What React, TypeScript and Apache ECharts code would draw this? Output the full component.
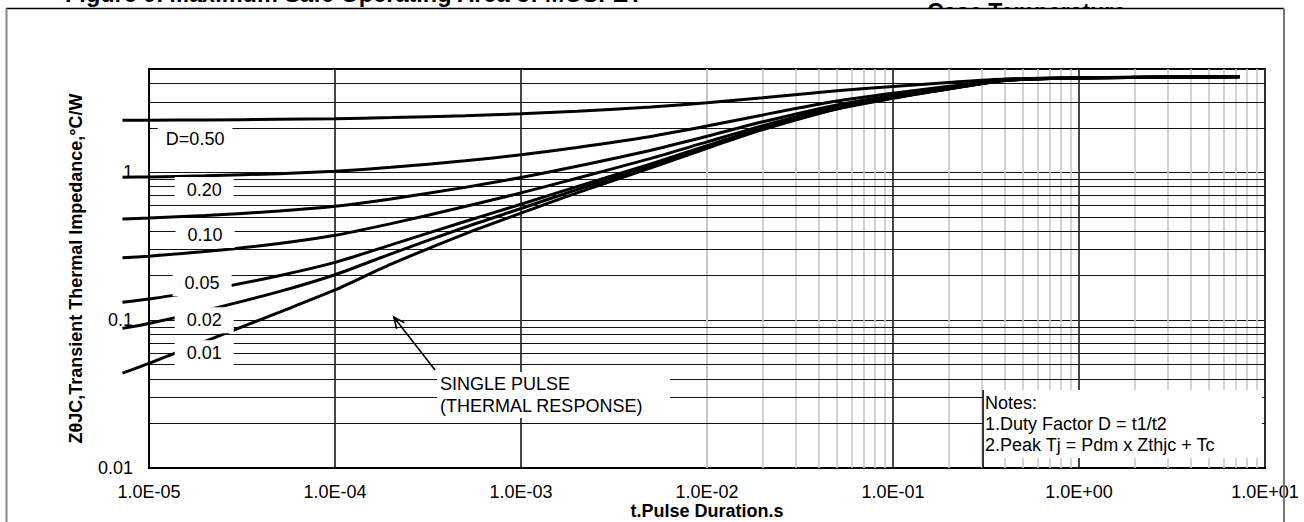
import React, { useEffect, useRef } from 'react';
import * as echarts from 'echarts';

// ---- data ----
const pulseTimes = [7.2e-6, 1e-5, 2e-5, 5e-5, 1e-4, 2e-4, 5e-4, 1e-3, 2e-3, 5e-3, 1e-2, 2e-2, 5e-2, 0.1, 0.2, 0.4, 1, 7.3];
const zD50 = [2.247, 2.25, 2.261, 2.282, 2.305, 2.345, 2.417, 2.49, 2.589, 2.762, 2.953, 3.198, 3.565, 3.81, 4.055, 4.28, 4.37, 4.44];
const zD20 = [0.925, 0.931, 0.947, 0.98, 1.018, 1.081, 1.197, 1.314, 1.472, 1.748, 2.055, 2.446, 3.034, 3.426, 3.818, 4.234, 4.36, 4.44];
const zD10 = [0.484, 0.491, 0.51, 0.547, 0.589, 0.66, 0.791, 0.922, 1.099, 1.411, 1.755, 2.196, 2.857, 3.298, 3.739, 4.207, 4.355, 4.44];
const zD05 = [0.264, 0.271, 0.291, 0.33, 0.375, 0.45, 0.587, 0.726, 0.913, 1.242, 1.606, 2.07, 2.768, 3.234, 3.699, 4.193, 4.35, 4.44];
const zD02 = [0.132, 0.139, 0.159, 0.2, 0.246, 0.323, 0.465, 0.608, 0.801, 1.141, 1.516, 1.995, 2.715, 3.196, 3.676, 4.185, 4.35, 4.44];
const zD01 = [0.088, 0.095, 0.116, 0.156, 0.203, 0.281, 0.425, 0.569, 0.764, 1.107, 1.486, 1.97, 2.698, 3.183, 3.668, 4.183, 4.35, 4.44];
const zSingle = [0.0438, 0.051, 0.0718, 0.113, 0.16, 0.239, 0.384, 0.53, 0.727, 1.073, 1.456, 1.945, 2.68, 3.17, 3.66, 4.18, 4.35, 4.44];

const xTickLabels = ['1.0E-05', '1.0E-04', '1.0E-03', '1.0E-02', '1.0E-01', '1.0E+00', '1.0E+01'];
const yTickLabels = ['0.01', '0.1', '1'];
const gridMultipliers = [2, 3, 4, 5, 6, 7, 8, 9];
const xDecades = [1e-5, 1e-4, 1e-3, 1e-2, 1e-1, 1];
const yDecades = [0.01, 0.1, 1];

const curveLabels = ['D=0.50', '0.20', '0.10', '0.05', '0.02', '0.01'];
const curveLabelAnchors = [
  [1.77e-5, 1.68],
  [1.98e-5, 0.76],
  [2.0e-5, 0.377],
  [1.93e-5, 0.178],
  [1.98e-5, 0.1],
  [1.98e-5, 0.0597],
];
const singlePulseAnchor = [3.67e-4, 0.0446];
const arrowTail = [3.45e-4, 0.046];
const arrowTip = [2.07e-4, 0.105];
const notesAnchor = [0.305, 0.0337];
const notesLines = ['Notes:', '1.Duty Factor D = t1/t2', '2.Peak Tj = Pdm x Zthjc + Tc'];

const FONT = "'Liberation Sans', Arial, Helvetica, sans-serif";

// plot geometry
const G_LEFT = 149;
const G_RIGHT = 39;
const G_TOP = 69;
const G_BOTTOM = 54;
const X_MIN_LOG = -5;
const X_MAX_LOG = 1;
// the curves start a little left of the y axis, as in the reference
const CURVE_X_MIN_LOG = -5.15;

function pairs(z: number[]) {
  return pulseTimes.map((t, i) => [t, z[i]]);
}

export default function App() {
  const ref = useRef<HTMLDivElement>(null);
  useEffect(() => {
    document.body.style.margin = '0';
    document.body.style.overflow = 'hidden';
    const chart = echarts.init(ref.current!, null, { renderer: 'svg' });

    const plotW = 1304 - G_LEFT - G_RIGHT;
    const decadePx = plotW / (X_MAX_LOG - X_MIN_LOG);
    const curveLeft = G_LEFT - (X_MIN_LOG - CURVE_X_MIN_LOG) * decadePx;

    const vMinor = xDecades.flatMap((d) => gridMultipliers.map((m) => m * d));
    const hMinor = yDecades.flatMap((d) => gridMultipliers.map((m) => m * d)).filter((v) => v < 4.999);

    const mkSeries = (name: string, z: number[]) => ({
      name,
      type: 'line',
      xAxisIndex: 1,
      yAxisIndex: 1,
      data: pairs(z),
      symbol: 'none',
      smooth: 0.25,
      clip: false,
      lineStyle: { color: '#000', width: 3 },
      silent: true,
      z: 3,
    });

    chart.setOption({
      animation: false,
      textStyle: { fontFamily: FONT },
      grid: [
        { left: G_LEFT, right: G_RIGHT, top: G_TOP, bottom: G_BOTTOM, show: true, borderColor: '#000', borderWidth: 2, outerBoundsMode: 'none', containLabel: false },
        { left: curveLeft, right: G_RIGHT, top: G_TOP, bottom: G_BOTTOM, show: false, outerBoundsMode: 'none', containLabel: false },
      ],
      xAxis: [
        {
          type: 'log',
          gridIndex: 0,
          logBase: 10,
          min: Math.pow(10, X_MIN_LOG),
          max: Math.pow(10, X_MAX_LOG),
          name: 't.Pulse Duration.s',
          nameLocation: 'middle',
          nameGap: 34,
          nameMoveOverlap: false,
          nameTextStyle: { fontSize: 18, fontWeight: 'bold', color: '#000', fontFamily: FONT },
          axisLine: { show: true, lineStyle: { color: '#000', width: 2 } },
          axisTick: { show: false },
          axisLabel: {
            color: '#000',
            fontSize: 18,
            fontFamily: FONT,
            margin: 15,
            formatter: (v: number) => xTickLabels[Math.round(Math.log10(v)) + 5] ?? '',
          },
          splitLine: { show: true, lineStyle: { color: '#333', width: 1.8 } },
        },
        {
          type: 'log',
          gridIndex: 1,
          logBase: 10,
          min: Math.pow(10, CURVE_X_MIN_LOG),
          max: Math.pow(10, X_MAX_LOG),
          show: false,
          splitLine: { show: false },
        },
      ],
      yAxis: [
        {
          type: 'log',
          gridIndex: 0,
          logBase: 10,
          min: 0.01,
          max: 5,
          name: 'ZθJC,Transient Thermal Impedance,°C/W',
          nameLocation: 'middle',
          nameGap: 64,
          nameTextStyle: { fontSize: 18, fontWeight: 'bold', color: '#000', fontFamily: FONT },
          axisLine: { show: true, lineStyle: { color: '#000', width: 2 } },
          axisTick: { show: false },
          axisLabel: {
            color: '#000',
            fontSize: 18,
            fontFamily: FONT,
            margin: 16,
            formatter: (v: number) => {
              const k = Math.log10(v);
              if (Math.abs(k - Math.round(k)) > 1e-6) return '';
              return yTickLabels[Math.round(k) + 2] ?? '';
            },
          },
          splitLine: { show: true, lineStyle: { color: '#111', width: 1.2 } },
        },
        {
          type: 'log',
          gridIndex: 1,
          logBase: 10,
          min: 0.01,
          max: 5,
          show: false,
          splitLine: { show: false },
        },
      ],
      series: [
        {
          name: 'grid lines',
          type: 'line',
          xAxisIndex: 0,
          yAxisIndex: 0,
          data: [[1e-5, 0.01]],
          symbol: 'none',
          showSymbol: false,
          lineStyle: { opacity: 0 },
          silent: true,
          z: 1,
          markLine: {
            z: 1,
            silent: true,
            symbol: 'none',
            label: { show: false },
            animation: false,
            data: [
              ...vMinor.map((v) => ({ xAxis: v, lineStyle: { color: '#c8c8c8', width: 1.6, type: 'solid' } })),
              ...hMinor.map((v) => ({ yAxis: v, lineStyle: { color: '#111', width: 1.2, type: 'solid' } })),
            ],
          },
        },
        mkSeries('Single pulse', zSingle),
        mkSeries('D=0.01', zD01),
        mkSeries('D=0.02', zD02),
        mkSeries('D=0.05', zD05),
        mkSeries('D=0.10', zD10),
        mkSeries('D=0.20', zD20),
        mkSeries('D=0.50', zD50),
      ],
    });

    const px = (p: number[]) => chart.convertToPixel({ gridIndex: 0 }, p) as number[];
    const graphics: any[] = [];

    // page remnants: captions of neighbouring figures and the outer frame
    graphics.push({
      type: 'text', z: 0, x: 927, y: 0,
      style: { text: 'Case Temperature', font: `bold 23px ${FONT}`, fill: '#000', align: 'left', verticalAlign: 'top' },
    });
    graphics.push({ type: 'rect', z: 1, shape: { x: 0, y: 9, width: 1304, height: 50 }, style: { fill: '#fff' } });
    graphics.push({
      type: 'text', z: 3, x: 65, y: 5.5,
      style: { text: 'Figure 9. Maximum Safe Operating Area of MOSFET', font: `bold 23.5px ${FONT}`, fill: '#000', align: 'left', verticalAlign: 'bottom' },
    });
    graphics.push({ type: 'line', z: 2, shape: { x1: 6, y1: 8.5, x2: 1284, y2: 8.5 }, style: { stroke: '#000', lineWidth: 1.5 } });
    graphics.push({ type: 'line', z: 60, shape: { x1: 6.5, y1: 8.5, x2: 6.5, y2: 522 }, style: { stroke: '#888', lineWidth: 2 } });
    graphics.push({ type: 'line', z: 60, shape: { x1: 1284, y1: 8.5, x2: 1284, y2: 522 }, style: { stroke: '#777', lineWidth: 2 } });

    // curve labels
    curveLabels.forEach((s, i) => {
      const [x, y] = px(curveLabelAnchors[i]);
      graphics.push({
        type: 'text', z: 50, x, y,
        style: {
          text: s, font: `18px ${FONT}`, fill: '#000', align: 'center', verticalAlign: 'middle',
          backgroundColor: '#fff', padding: i === 0 ? [4, 8, 4, 8] : [4, 12, 4, 12],
        },
      });
    });

    // single pulse annotation
    const [sx, sy] = px(singlePulseAnchor);
    graphics.push({ type: 'rect', z: 50, shape: { x: sx - 3, y: sy, width: 233, height: 46 }, style: { fill: '#fff' } });
    graphics.push({
      type: 'text', z: 51, x: sx, y: sy + 1,
      style: { text: 'SINGLE PULSE\n(THERMAL RESPONSE)', font: `18px ${FONT}`, fill: '#000', align: 'left', verticalAlign: 'top', lineHeight: 22 },
    });
    const [tx, ty] = px(arrowTail);
    const [hx, hy] = px(arrowTip);
    const ang = Math.atan2(ty - hy, tx - hx);
    const wing = 12;
    const spread = 0.42;
    graphics.push({ type: 'line', z: 52, shape: { x1: tx, y1: ty, x2: hx, y2: hy }, style: { stroke: '#000', lineWidth: 1.6 } });
    graphics.push({
      type: 'polyline', z: 52,
      shape: {
        points: [
          [hx + wing * Math.cos(ang + spread), hy + wing * Math.sin(ang + spread)],
          [hx, hy],
          [hx + wing * Math.cos(ang - spread), hy + wing * Math.sin(ang - spread)],
        ],
      },
      style: { stroke: '#000', lineWidth: 1.6, fill: 'none' },
    });

    // notes box
    const [nx, ny] = px(notesAnchor);
    const [, bottomY] = px([1, 0.01]);
    graphics.push({ type: 'rect', z: 50, shape: { x: nx, y: ny, width: 279, height: 68 }, style: { fill: '#fff' } });
    graphics.push({ type: 'line', z: 51, shape: { x1: nx, y1: ny, x2: nx, y2: bottomY }, style: { stroke: '#000', lineWidth: 1.5 } });
    graphics.push({
      type: 'text', z: 51, x: nx + 2, y: ny + 2.5,
      style: { text: notesLines.join('\n'), font: `18px ${FONT}`, fill: '#000', align: 'left', verticalAlign: 'top', lineHeight: 21 },
    });

    chart.setOption({ graphic: graphics });
    return () => chart.dispose();
  }, []);
  return <div ref={ref} style={{ width: 1304, height: 522 }} />;
}
